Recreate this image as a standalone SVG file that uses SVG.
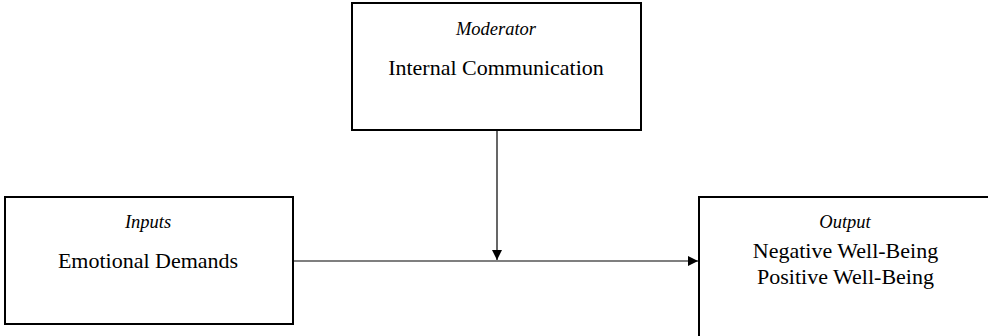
<svg xmlns="http://www.w3.org/2000/svg" width="988" height="336" viewBox="0 0 988 336">
<style>
.box{fill:#fff;stroke:#000;stroke-width:2}
text{font-family:'Liberation Serif','Tinos','DejaVu Serif',serif;fill:#000;text-anchor:middle}
.it{font-style:italic;font-size:18.5px}
.main{font-size:22px}
.con{stroke:#000;stroke-width:1.2;fill:none}
</style>
<defs>
<marker id="ah" viewBox="0 0 10 10" refX="10" refY="5" markerWidth="10" markerHeight="10" markerUnits="userSpaceOnUse" orient="auto">
<path d="M0,0 L10,5 L0,10 z" fill="#000"/>
</marker>
</defs>
<rect width="988" height="336" fill="#fff"/>
<g id="moderator">
<rect class="box" x="352" y="3" width="289" height="127"/>
<text class="it" x="496" y="35">Moderator</text>
<text class="main" x="496" y="75">Internal Communication</text>
</g>
<g id="inputs">
<rect class="box" x="5" y="197" width="288" height="127"/>
<text class="it" x="148" y="228">Inputs</text>
<text class="main" x="148" y="268">Emotional Demands</text>
</g>
<g id="output">
<rect class="box" x="699" y="197" width="292" height="150"/>
<text class="it" x="845" y="228">Output</text>
<text class="main" x="845.5" y="258">Negative Well-Being</text>
<text class="main" x="845.5" y="284">Positive Well-Being</text>
</g>
<g id="connectors">
<line class="con" x1="293" y1="261" x2="698" y2="261" marker-end="url(#ah)"/>
<line class="con" x1="497" y1="131" x2="497" y2="260" marker-end="url(#ah)"/>
</g>
</svg>
